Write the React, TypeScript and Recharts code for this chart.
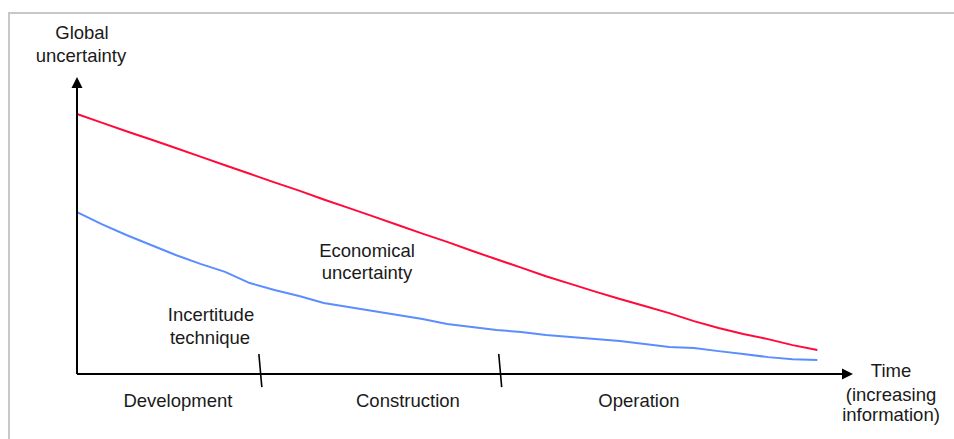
import { LineChart, Line, XAxis, YAxis, ReferenceDot, ReferenceLine } from "recharts";

// time steps (arbitrary units along the horizontal axis)
const periods = [
  0, 1, 2, 3, 4, 5, 6, 7, 8, 9, 10, 11, 12, 13, 14, 15, 16, 17, 18, 19, 20, 21, 22, 23, 24, 25, 26, 27, 28, 29, 30,
];
const economical = [
  90.9, 87.9, 84.9, 82.0, 79.0, 76.0, 73.0, 70.0, 67.0, 64.1, 61.0, 58.1, 55.1, 52.1, 49.1, 46.2, 43.1, 40.1, 37.2,
  34.2, 31.5, 28.8, 26.2, 23.8, 21.3, 18.5, 16.1, 14.0, 12.2, 10.1, 8.4,
];
const technical = [
  56.6, 52.4, 48.6, 45.1, 41.6, 38.5, 35.7, 31.8, 29.4, 27.3, 24.8, 23.4, 22.0, 20.6, 19.2, 17.5, 16.4, 15.4, 14.7,
  13.6, 12.9, 12.2, 11.5, 10.5, 9.4, 9.1, 8.0, 7.0, 5.9, 5.2, 4.9,
];
const phaseNames = ["Development", "Construction", "Operation"];
const phaseLabelAt = [4.09, 13.41, 22.77];
const phaseBounds = [7.42, 17.14];

const X_MAX = 31;
const Y_MAX = 100;
const FONT = "'Liberation Sans', Arial, sans-serif";
const TEXT = "#1a1a1a";

const data = periods.map((t, i) => ({ t, eco: economical[i], tech: technical[i] }));

const UpArrow = (p: any) => (
  <polygon points={`${p.cx},${p.cy - 11} ${p.cx - 5.5},${p.cy} ${p.cx + 5.5},${p.cy}`} fill="#000" />
);
const RightArrow = (p: any) => (
  <polygon points={`${p.cx + 11},${p.cy} ${p.cx},${p.cy - 5.5} ${p.cx},${p.cy + 5.5}`} fill="#000" />
);

const PhaseTick = ({ x, y, payload }: any) => {
  const i = phaseLabelAt.indexOf(payload.value);
  return (
    <text x={x} y={y + 33} textAnchor="middle" fontSize={18.5} fontFamily={FONT} fill={TEXT}>
      {phaseNames[i]}
    </text>
  );
};

const txt = { fontSize: 18.5, fontFamily: FONT, fill: TEXT, textAnchor: "middle" as const };

export default function App() {
  return (
    <div style={{ position: "absolute", left: 0, top: 0, width: 954, height: 439 }}>
      <div
        style={{
          position: "absolute",
          left: 8,
          top: 12,
          width: 960,
          height: 440,
          border: "2px solid #c8c8c8",
          boxSizing: "border-box",
        }}
      />
      <div style={{ position: "absolute", left: 0, top: 0 }}>
        <LineChart width={954} height={439} data={data} margin={{ top: 88, right: 112, bottom: 25, left: 47 }}>
          <XAxis
            dataKey="t"
            type="number"
            domain={[0, X_MAX]}
            ticks={phaseLabelAt}
            tick={<PhaseTick />}
            tickLine={false}
            tickSize={0}
            tickMargin={0}
            height={40}
            axisLine={{ stroke: "#000", strokeWidth: 2 }}
            interval={0}
          />
          <YAxis
            type="number"
            domain={[0, Y_MAX]}
            width={30}
            tick={false}
            tickLine={false}
            axisLine={{ stroke: "#000", strokeWidth: 2 }}
          />
          {phaseBounds.map((b) => (
            <ReferenceLine
              key={b}
              segment={[
                { x: b - 0.05, y: 7 },
                { x: b + 0.07, y: -4.6 },
              ]}
              stroke="#000"
              strokeWidth={1.6}
              ifOverflow="visible"
            />
          ))}
          <ReferenceDot x={0} y={Y_MAX} r={0} shape={UpArrow} ifOverflow="visible" />
          <ReferenceDot x={X_MAX} y={0} r={0} shape={RightArrow} ifOverflow="visible" />
          <Line
            type="linear"
            dataKey="eco"
            stroke="#ff0a3a"
            strokeWidth={2}
            dot={false}
            isAnimationActive={false}
          />
          <Line
            type="linear"
            dataKey="tech"
            stroke="#5b8dff"
            strokeWidth={2}
            dot={false}
            isAnimationActive={false}
          />
          <g>
            <text x={82} y={39} {...txt}>Global</text>
            <text x={81} y={62} {...txt}>uncertainty</text>
            <text x={367} y={257} {...txt}>Economical</text>
            <text x={367} y={279} {...txt}>uncertainty</text>
            <text x={211} y={321} {...txt}>Incertitude</text>
            <text x={210} y={344} {...txt}>technique</text>
            <text x={891} y={377} {...txt}>Time</text>
            <text x={891} y={401} {...txt}>(increasing</text>
            <text x={891} y={421} {...txt}>information)</text>
          </g>
        </LineChart>
      </div>
    </div>
  );
}
